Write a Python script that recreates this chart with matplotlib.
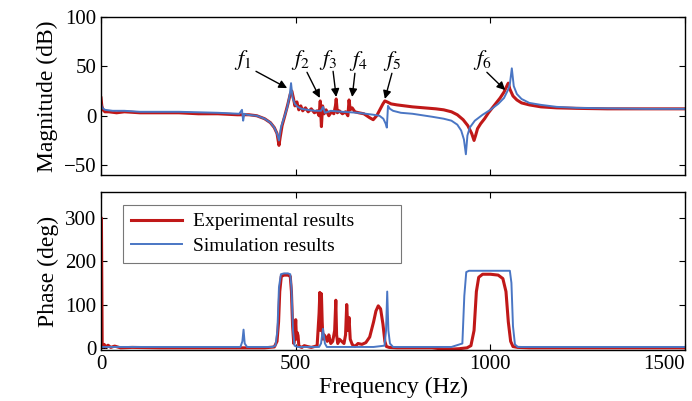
import matplotlib
matplotlib.use("Agg")
import matplotlib.pyplot as plt

# ---- data ----
mag_exp_f = [0, 2, 5, 10, 20, 40, 60, 100, 150, 200, 250, 300, 350, 380, 400, 420, 435, 445, 452, 457, 460, 465, 472, 480, 486, 490, 494, 498, 503, 508, 513, 518, 525, 532, 540, 548, 555, 560, 563, 566, 569, 573, 578, 585, 592, 598, 602, 604, 607, 612, 620, 628, 634, 637, 640, 645, 652, 662, 675, 690, 699, 708, 716, 724, 729, 735, 745, 760, 780, 800, 830, 860, 880, 900, 915, 930, 942, 952, 958, 962, 967, 975, 985, 995, 1005, 1015, 1025, 1035, 1042, 1046, 1050, 1058, 1068, 1080, 1100, 1130, 1170, 1220, 1300, 1400, 1500]
mag_exp_v = [18, 10, 6, 4, 4, 3, 4, 3, 3, 3, 2, 2, 1, 1, 0, -3, -7, -12, -18, -30, -22, -10, 0, 12, 22, 25, 18, 10, 14, 6, 10, 5, 8, 4, 7, 3, 5, 0, 15, -11, 10, 2, 6, 0, 4, 2, 10, 17, 3, 5, 2, 4, 0, 16, 6, 8, 4, 3, 2, -2, -4, 0, 6, 12, 15, 14, 12, 11, 10, 9, 8, 7, 6, 4, 1, -4, -10, -18, -25, -20, -13, -8, -3, 3, 8, 13, 18, 24, 30, 33, 27, 20, 16, 13, 11, 9, 8, 7.5, 7, 7, 7]

mag_sim_f = [0, 3, 10, 30, 60, 100, 200, 300, 355, 362, 365, 368, 375, 400, 420, 435, 445, 452, 457, 462, 470, 478, 485, 488, 492, 498, 505, 515, 530, 550, 565, 570, 575, 590, 620, 660, 700, 715, 725, 731, 734, 737, 742, 750, 770, 800, 850, 880, 900, 915, 925, 932, 937, 941, 947, 960, 980, 1000, 1020, 1035, 1045, 1050, 1055, 1060, 1068, 1080, 1100, 1130, 1170, 1220, 1300, 1400, 1500]
mag_sim_v = [12, 8, 6, 5, 5, 4, 4, 3, 2, 6, -5, 2, 1, 0, -3, -7, -12, -18, -25, -12, -2, 8, 22, 33, 18, 12, 9, 7, 6, 5, 5, 9, 3, 5, 4, 3, 1, 0, -3, -8, -12, 10, 7, 5, 3, 2, -1, -3, -5, -9, -15, -24, -39, -20, -12, -5, 1, 6, 12, 18, 26, 32, 48, 30, 22, 17, 13, 11, 9, 8, 7.5, 7, 7]

ph_exp_f = [0, 1, 3, 5, 8, 12, 18, 25, 35, 50, 80, 150, 300, 420, 445, 452, 456, 459, 463, 470, 480, 486, 489, 492, 495, 498, 500, 502, 504, 506, 508, 512, 516, 522, 530, 540, 548, 555, 560, 562, 564, 566, 568, 570, 573, 577, 581, 585, 590, 595, 600, 603, 605, 608, 612, 618, 624, 628, 631, 634, 637, 640, 645, 652, 660, 670, 680, 690, 700, 706, 712, 718, 724, 729, 733, 740, 760, 800, 850, 880, 900, 920, 940, 950, 958, 964, 970, 980, 1000, 1020, 1032, 1040, 1046, 1052, 1058, 1070, 1100, 1200, 1300, 1500]
ph_exp_v = [300, 300, 5, 2, 8, 2, 6, 1, 4, 0, 1, 0, 0, 0, 2, 15, 60, 130, 165, 168, 168, 165, 130, 50, 10, 30, 65, 20, 35, 28, 5, 2, 1, 5, 3, 1, 3, 5, 80, 128, 40, 125, 60, 20, 30, 25, 15, 30, 10, 15, 40, 110, 30, 10, 20, 15, 10, 30, 100, 40, 70, 20, 8, 3, 10, 8, 12, 25, 60, 85, 97, 90, 55, 15, 3, 1, 0, 0, 0, -3, -3, -2, 0, 5, 40, 130, 163, 170, 170, 168, 160, 130, 60, 15, 3, 1, 0, 0, 0, 0]

ph_sim_f = [0, 50, 300, 358, 363, 366, 369, 375, 440, 448, 453, 457, 462, 470, 480, 486, 489, 493, 497, 505, 560, 565, 570, 575, 580, 600, 700, 728, 732, 735, 738, 742, 750, 900, 928, 933, 938, 945, 1000, 1050, 1054, 1058, 1063, 1070, 1100, 1500]
ph_sim_v = [2, 2, 2, 2, 15, 42, 10, 2, 2, 5, 40, 140, 170, 172, 172, 170, 140, 40, 5, 2, 2, 10, 44, 10, 2, 2, 2, 5, 40, 130, 40, 10, 2, 2, 10, 120, 175, 178, 178, 178, 150, 50, 8, 2, 2, 2]

x_ticks = [0, 500, 1000, 1500]
x_ticklabels = ["0", "500", "1000", "1500"]
mag_ticks = [-50, 0, 50, 100]
ph_ticks = [0, 100, 200, 300]

labels = ["$f_1$", "$f_2$", "$f_3$", "$f_4$", "$f_5$", "$f_6$"]
label_xy = [(365, 56), (511, 56), (583, 56), (660, 55), (747, 55), (979, 56)]
arrow_tail = [(398, 45), (529, 44), (596, 45), (652, 43), (747, 43), (991, 44)]
arrow_tip = [(478, 28), (562, 18), (604, 19), (645, 19), (729, 17), (1038, 26)]

RED = "#C01818"
BLUE = "#4A76C4"

plt.rcParams["font.family"] = ["Liberation Serif", "DejaVu Serif"]
plt.rcParams["mathtext.fontset"] = "stix"

fig = plt.figure(figsize=(6.92, 4.01), dpi=100)
ax1 = fig.add_axes([0.146, 0.5636, 0.844, 0.394])
ax2 = fig.add_axes([0.146, 0.1272, 0.844, 0.394])

ax1.plot(mag_exp_f, mag_exp_v, color=RED, lw=2.2, solid_joinstyle="round")
ax1.plot(mag_sim_f, mag_sim_v, color=BLUE, lw=1.4)
ax2.plot(ph_exp_f, ph_exp_v, color=RED, lw=2.2, label="Experimental results", solid_joinstyle="round")
ax2.plot(ph_sim_f, ph_sim_v, color=BLUE, lw=1.4, label="Simulation results")

for ax in (ax1, ax2):
    ax.set_xlim(0, 1500)
    ax.set_xticks(x_ticks)
    ax.tick_params(direction="in", top=True, right=True, labelsize=15, length=4, width=0.8)
    for s in ax.spines.values():
        s.set_linewidth(1.0)

ax1.set_ylim(-60, 100)
ax1.set_yticks(mag_ticks)
ax1.set_xticklabels([])
ax1.set_ylabel("Magnitude (dB)", fontsize=17, labelpad=4)

ax2.set_ylim(-5, 360)
ax2.set_yticks(ph_ticks)
ax2.set_xticklabels(x_ticklabels)
ax2.get_xticklabels()[-1].set_horizontalalignment("right")
ax2.set_ylabel("Phase (deg)", fontsize=17, labelpad=4)
ax2.set_xlabel("Frequency (Hz)", fontsize=17, labelpad=2)

for lab, txy, tail, tip in zip(labels, label_xy, arrow_tail, arrow_tip):
    ax1.text(txy[0], txy[1], lab, fontsize=16, ha="center", va="center")
    ax1.annotate("", xy=tip, xytext=tail,
                 arrowprops=dict(arrowstyle="-|>", color="black", lw=1.0,
                                 mutation_scale=12, shrinkA=0, shrinkB=0))

leg = ax2.legend(loc="upper left", bbox_to_anchor=(0.038, 0.57, 0.476, 0.348),
                 mode="expand", borderaxespad=0, fontsize=14,
                 frameon=True, fancybox=False, edgecolor="#555555",
                 handlelength=2.6, borderpad=0.4, labelspacing=0.35, handletextpad=0.6)
leg.get_frame().set_linewidth(0.8)

fig.savefig("out.png", dpi=100)
